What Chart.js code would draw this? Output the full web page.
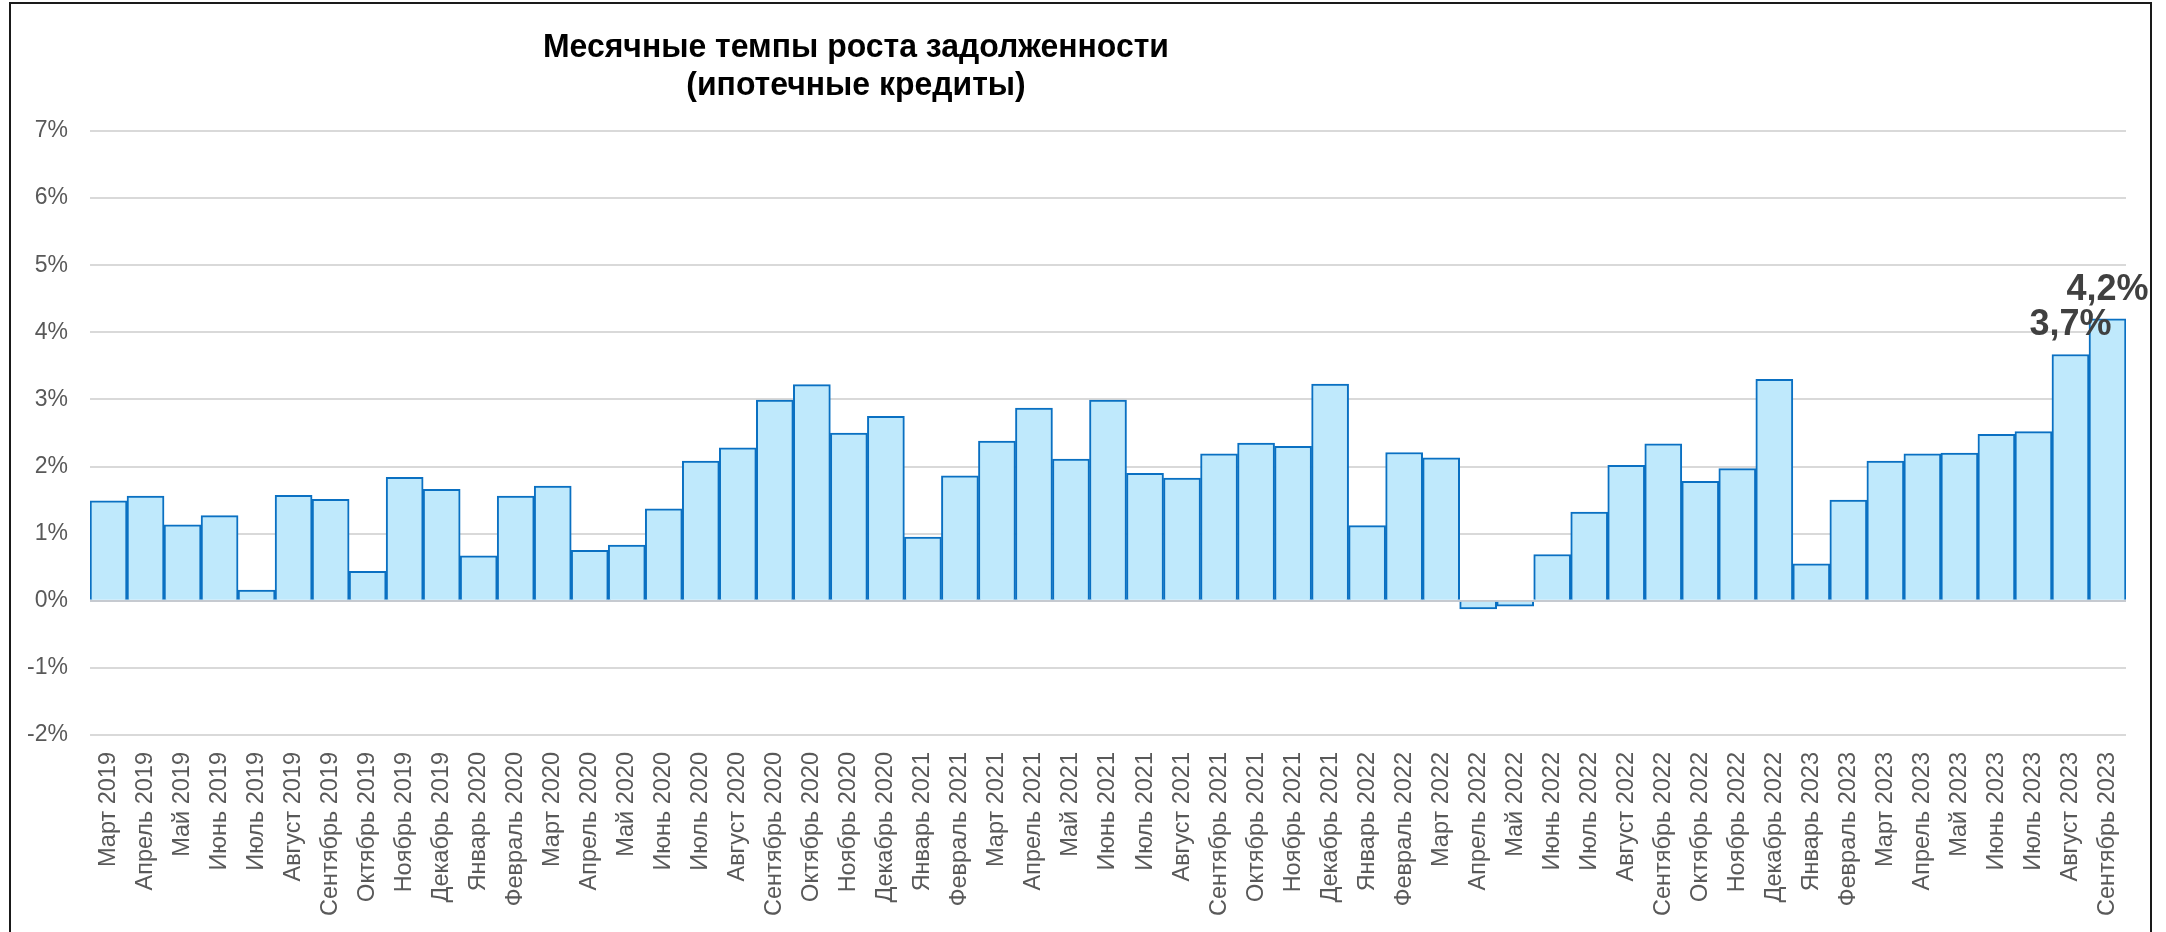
<!DOCTYPE html>
<html>
<head>
<meta charset="utf-8">
<script src="https://cdn.jsdelivr.net/npm/chart.js@4"></script>
<style>
  html, body { margin: 0; padding: 0; background: #fff; overflow: hidden; }
  #frame {
    position: absolute; left: 9px; top: 2px; width: 2143px; height: 960px;
    border: 2px solid #1a1a1a; box-sizing: border-box;
  }
  #title {
    position: absolute; left: 356px; top: 26px; width: 1000px;
    text-align: center; font-weight: bold; font-size: 34px; line-height: 38px; color: #000;
    font-family: "Liberation Sans", Arial, sans-serif;
    transform-origin: 50% 50%;
  }
  #title span { white-space: nowrap; }
  canvas { position: absolute; left: 0; top: 0; }
</style>
</head>
<body>
<div id="frame"></div>
<canvas id="myChart" width="2166" height="932"></canvas>
<div id="title"><span id="t1">Месячные темпы роста задолженности</span><br><span>(ипотечные кредиты)</span></div>
<script>
// месяцы
var months = [
    "Март 2019","Апрель 2019","Май 2019","Июнь 2019","Июль 2019","Август 2019","Сентябрь 2019","Октябрь 2019","Ноябрь 2019","Декабрь 2019",
    "Январь 2020","Февраль 2020","Март 2020","Апрель 2020","Май 2020","Июнь 2020","Июль 2020","Август 2020","Сентябрь 2020","Октябрь 2020","Ноябрь 2020","Декабрь 2020",
    "Январь 2021","Февраль 2021","Март 2021","Апрель 2021","Май 2021","Июнь 2021","Июль 2021","Август 2021","Сентябрь 2021","Октябрь 2021","Ноябрь 2021","Декабрь 2021",
    "Январь 2022","Февраль 2022","Март 2022","Апрель 2022","Май 2022","Июнь 2022","Июль 2022","Август 2022","Сентябрь 2022","Октябрь 2022","Ноябрь 2022","Декабрь 2022",
    "Январь 2023","Февраль 2023","Март 2023","Апрель 2023","Май 2023","Июнь 2023","Июль 2023","Август 2023","Сентябрь 2023"
];

// темп роста, %
var growth = [
    1.49, 1.56, 1.13, 1.27, 0.16, 1.57, 1.51, 0.44, 1.84, 1.66,
    0.67, 1.56, 1.71, 0.75, 0.83, 1.37, 2.08, 2.28, 2.99, 3.22, 2.50, 2.75,
    0.95, 1.86, 2.38, 2.87, 2.11, 2.99, 1.90, 1.83, 2.19, 2.35, 2.30, 3.23,
    1.12, 2.21, 2.13, -0.12, -0.08, 0.69, 1.32, 2.02, 2.34, 1.78, 1.97, 3.30,
    0.55, 1.50, 2.08, 2.19, 2.20, 2.48, 2.52, 3.67, 4.20
];

// подписи только у последних месяцев
var labelled = ["Август 2023", "Сентябрь 2023"];

var yTicks = [-2, -1, 0, 1, 2, 3, 4, 5, 6, 7];

// заголовок в узком начертании
var t1 = document.getElementById("t1");
var sx = 626 / t1.getBoundingClientRect().width;
document.getElementById("title").style.transform = "scaleX(" + sx + ")";

Chart.defaults.font.family = '"Liberation Sans", Arial, sans-serif';

var valueLabels = {
    id: "valueLabels",
    afterDatasetsDraw: function(chart){
        var ctx = chart.ctx;
        var meta = chart.getDatasetMeta(0);
        ctx.save();
        ctx.font = 'bold 36px "Liberation Sans", Arial, sans-serif';
        ctx.fillStyle = "#404040";
        ctx.textAlign = "center";
        ctx.textBaseline = "alphabetic";
        meta.data.forEach(function(bar, i){
            if (labelled.indexOf(months[i]) < 0) return;
            var txt = growth[i].toFixed(1).replace(".", ",") + "%";
            ctx.fillText(txt, bar.x, bar.y - 19);
        });
        ctx.restore();
    }
};

var ctx = document.getElementById("myChart").getContext("2d");
var chart = new Chart(ctx, {
    type: "bar",
    data: {
        labels: months,
        datasets: [{
            label: "Темп роста",
            data: growth,
            backgroundColor: "#bfe9fc",
            borderColor: "#0a70c2",
            borderWidth: 2,
            barPercentage: 1,
            categoryPercentage: 1
        }]
    },
    options: {
        responsive: false,
        animation: false,
        devicePixelRatio: 1,
        layout: { padding: { top: 131, right: 40, bottom: 0, left: 0 } },
        plugins: {
            legend: { display: false },
            tooltip: { enabled: false }
        },
        scales: {
            x: {
                grid: { display: false },
                border: { display: false },
                ticks: {
                    autoSkip: false,
                    minRotation: 90,
                    maxRotation: 90,
                    padding: 9,
                    color: "#595959",
                    font: { size: 23.5 }
                },
                afterFit: function(scale){ scale.height = 197; }
            },
            y: {
                min: -2,
                max: 7,
                afterBuildTicks: function(scale){
                    scale.ticks = yTicks.map(function(v){ return { value: v }; });
                },
                grid: {
                    drawTicks: false,
                    lineWidth: 2,
                    color: function(c){ return c.tick && c.tick.value === 0 ? "#c6cad0" : "#d9d9d9"; }
                },
                border: { display: false },
                ticks: {
                    padding: 22,
                    color: "#595959",
                    font: { size: 23 },
                    callback: function(v){ return v + "%"; }
                },
                afterFit: function(scale){ scale.width = 90; }
            }
        }
    },
    plugins: [valueLabels]
});
</script>
</body>
</html>
